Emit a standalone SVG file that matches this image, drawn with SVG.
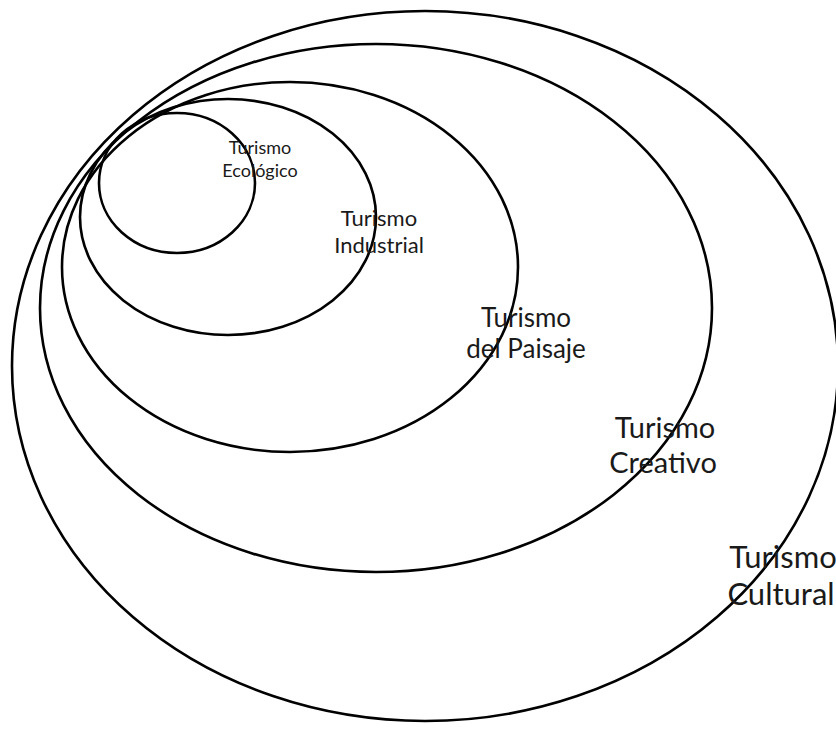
<svg xmlns="http://www.w3.org/2000/svg" width="836" height="732" viewBox="0 0 836 732">
<style>
.e{fill:none;stroke:#000;stroke-width:2.6}
.t{font-family:Lato,"Open Sans","Liberation Sans",sans-serif;fill:#1a1a1a;text-anchor:middle}
</style>
<rect width="836" height="732" fill="#fff"/>
<g id="cultural">
<ellipse class="e" cx="425" cy="366" rx="413" ry="355"/>
<text class="t" font-size="31" x="783" y="568">Turismo</text>
<text class="t" font-size="31" x="781" y="605">Cultural</text>
</g>
<g id="creativo">
<ellipse class="e" cx="376" cy="308" rx="336" ry="264"/>
<text class="t" font-size="29" x="665" y="438">Turismo</text>
<text class="t" font-size="29" x="663" y="473">Creativo</text>
</g>
<g id="paisaje">
<ellipse class="e" cx="290" cy="267" rx="228" ry="185"/>
<text class="t" font-size="26" x="526" y="327">Turismo</text>
<text class="t" font-size="26" x="526" y="358">del Paisaje</text>
</g>
<g id="industrial">
<ellipse class="e" cx="228" cy="217" rx="148" ry="118"/>
<text class="t" font-size="22" x="379" y="226">Turismo</text>
<text class="t" font-size="22" x="379" y="253">Industrial</text>
</g>
<g id="ecologico">
<ellipse class="e" cx="177" cy="183" rx="78" ry="70"/>
<text class="t" font-size="18" x="260" y="154">Turismo</text>
<text class="t" font-size="18" x="260" y="177">Ecológico</text>
</g>
</svg>
